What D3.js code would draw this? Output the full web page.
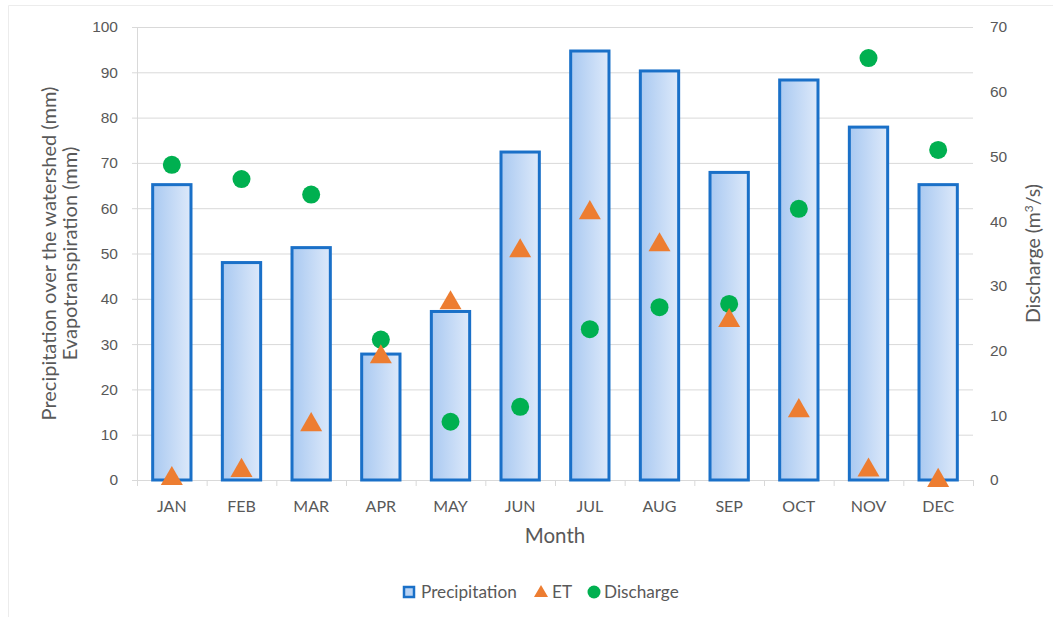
<html>
<head>
    <title>Precipitation, ET and discharge by month</title>
    <script type="text/javascript" src="https://d3js.org/d3.v7.min.js"></script>
    <style>
        body {
            margin: 0;
            background: white;
            font-family: Lato, "Open Sans", "Noto Sans", sans-serif;
        }

        .tick text {
            fill: #595959;
            font-size: 15.5px;
        }

        .title {
            fill: #595959;
            font-size: 20px;
        }
    </style>
</head>
<body>
<div id="chart"></div>

<script>
    var months = ["JAN", "FEB", "MAR", "APR", "MAY", "JUN", "JUL", "AUG", "SEP", "OCT", "NOV", "DEC"];
    var precipitation = [65.2, 48, 51.3, 27.8, 37.2, 72.4, 94.7, 90.3, 67.9, 88.3, 77.9, 65.2];
    var et = [0.5, 2.3, 12.4, 27.4, 39.3, 50.8, 59.2, 52.1, 35.4, 15.5, 2.4, 0.1];
    var discharge = [48.7, 46.5, 44.1, 21.7, 9.0, 11.3, 23.3, 26.7, 27.2, 41.9, 65.2, 51.0];
    var leftTicks = [0, 10, 20, 30, 40, 50, 60, 70, 80, 90, 100];
    var rightTicks = [0, 10, 20, 30, 40, 50, 60, 70];

    var W = 1053, H = 617;
    var margin = {top: 27, right: 80, bottom: 137, left: 137};
    var width = W - margin.left - margin.right,
        height = H - margin.top - margin.bottom;

    var svg = d3.select("#chart")
        .append("svg")
        .attr("width", W)
        .attr("height", H);

    // faint frame
    svg.append("path")
        .attr("d", "M8.5,617 L8.5,5.5 L1053,5.5")
        .attr("fill", "none")
        .attr("stroke", "#ececec");

    var defs = svg.append("defs");
    var grad = defs.append("linearGradient")
        .attr("id", "barfill")
        .attr("x1", "0%").attr("y1", "0%")
        .attr("x2", "100%").attr("y2", "0%");
    grad.append("stop").attr("offset", "0%").attr("stop-color", "#a9c9f1");
    grad.append("stop").attr("offset", "100%").attr("stop-color", "#dde9fa");

    var g = svg.append("g")
        .attr("transform", "translate(" + margin.left + "," + margin.top + ")");

    var x = d3.scaleBand()
        .domain(months)
        .range([0, width])
        .paddingInner(0.45)
        .paddingOuter(0.225);

    var xEdge = d3.scaleLinear().domain([0, months.length]).range([0, width]);

    var yL = d3.scaleLinear().domain([0, 100]).range([height, 0]);
    var yR = d3.scaleLinear().domain([0, 70]).range([height, 0]);

    // gridlines
    g.append("g")
        .selectAll("line")
        .data(leftTicks.slice(1))
        .join("line")
        .attr("x1", 0)
        .attr("x2", width)
        .attr("y1", function (d) { return yL(d) + 0.5; })
        .attr("y2", function (d) { return yL(d) + 0.5; })
        .attr("stroke", "#d9d9d9")
        .attr("stroke-width", 1);

    // left axis
    var leftAxis = g.append("g")
        .call(d3.axisLeft(yL).tickValues(leftTicks).tickSize(5).tickPadding(14));
    leftAxis.select(".domain").attr("stroke", "#d9d9d9").attr("d", "M0.5," + height + "V0");
    leftAxis.selectAll(".tick line").attr("stroke", "#d9d9d9");

    // right axis (labels only)
    var rightAxis = g.append("g")
        .attr("transform", "translate(" + width + ",0)")
        .call(d3.axisRight(yR).tickValues(rightTicks).tickSize(0).tickPadding(17));
    rightAxis.select(".domain").remove();

    // bottom axis
    var bottom = g.append("g")
        .attr("transform", "translate(0," + height + ")");
    bottom.append("line")
        .attr("x1", 0).attr("x2", width)
        .attr("y1", 0.5).attr("y2", 0.5)
        .attr("stroke", "#d9d9d9");
    bottom.selectAll("line.tk")
        .data(d3.range(months.length + 1))
        .join("line")
        .attr("class", "tk")
        .attr("x1", function (d) { return xEdge(d) + 0.5; })
        .attr("x2", function (d) { return xEdge(d) + 0.5; })
        .attr("y1", 0)
        .attr("y2", 6)
        .attr("stroke", "#d9d9d9");
    bottom.selectAll("text")
        .data(months)
        .join("text")
        .attr("x", function (d) { return x(d) + x.bandwidth() / 2; })
        .attr("y", 32)
        .attr("text-anchor", "middle")
        .attr("fill", "#595959")
        .style("font-size", "16px")
        .text(function (d) { return d; });

    // bars
    g.append("g")
        .selectAll("rect")
        .data(precipitation)
        .join("rect")
        .attr("x", function (d, i) { return x(months[i]); })
        .attr("y", function (d) { return yL(d); })
        .attr("width", x.bandwidth())
        .attr("height", function (d) { return height - yL(d); })
        .attr("fill", "url(#barfill)")
        .attr("stroke", "#1a70c8")
        .attr("stroke-width", 3);

    // discharge circles
    g.append("g")
        .selectAll("circle")
        .data(discharge)
        .join("circle")
        .attr("cx", function (d, i) { return x(months[i]) + x.bandwidth() / 2; })
        .attr("cy", function (d) { return yR(d); })
        .attr("r", 9)
        .attr("fill", "#00b050");

    // ET triangles
    var tri = d3.symbol().type(d3.symbolTriangle).size(210);
    g.append("g")
        .selectAll("path")
        .data(et)
        .join("path")
        .attr("d", tri)
        .attr("transform", function (d, i) {
            return "translate(" + (x(months[i]) + x.bandwidth() / 2) + "," + (yL(d) + 1) + ")";
        })
        .attr("fill", "#ed7d31");

    // axis titles
    svg.append("text")
        .attr("class", "title")
        .attr("transform", "translate(56," + (margin.top + height / 2) + ") rotate(-90)")
        .attr("text-anchor", "middle")
        .text("Precipitation over the watershed (mm)");
    svg.append("text")
        .attr("class", "title")
        .attr("transform", "translate(77," + (margin.top + height / 2) + ") rotate(-90)")
        .attr("text-anchor", "middle")
        .text("Evapotranspiration (mm)");

    var rt = svg.append("text")
        .attr("class", "title")
        .attr("transform", "translate(1040," + (margin.top + height / 2) + ") rotate(-90)")
        .attr("text-anchor", "middle")
        .style("font-size", "19.5px");
    rt.append("tspan").text("Discharge (m");
    rt.append("tspan").attr("baseline-shift", "super").style("font-size", "12px").text("3");
    rt.append("tspan").text("/s)");

    svg.append("text")
        .attr("class", "title")
        .attr("x", margin.left + width / 2)
        .attr("y", 543)
        .attr("text-anchor", "middle")
        .style("font-size", "20.5px")
        .text("Month");

    // legend
    var leg = svg.append("g").attr("transform", "translate(0,592)");
    leg.append("rect")
        .attr("x", 404).attr("y", -5)
        .attr("width", 10).attr("height", 10)
        .attr("fill", "#b9d3f4")
        .attr("stroke", "#1a70c8")
        .attr("stroke-width", 2.5);
    leg.append("text").attr("x", 421).attr("y", 6)
        .attr("fill", "#595959").style("font-size", "17.2px").text("Precipitation");
    leg.append("path")
        .attr("d", d3.symbol().type(d3.symbolTriangle).size(85))
        .attr("transform", "translate(541,1)")
        .attr("fill", "#ed7d31");
    leg.append("text").attr("x", 552).attr("y", 6)
        .attr("fill", "#595959").style("font-size", "17.2px").text("ET");
    leg.append("circle")
        .attr("cx", 594).attr("cy", 0)
        .attr("r", 6.5)
        .attr("fill", "#00b050");
    leg.append("text").attr("x", 604).attr("y", 6)
        .attr("fill", "#595959").style("font-size", "17.2px").text("Discharge");
</script>
</body>
</html>
